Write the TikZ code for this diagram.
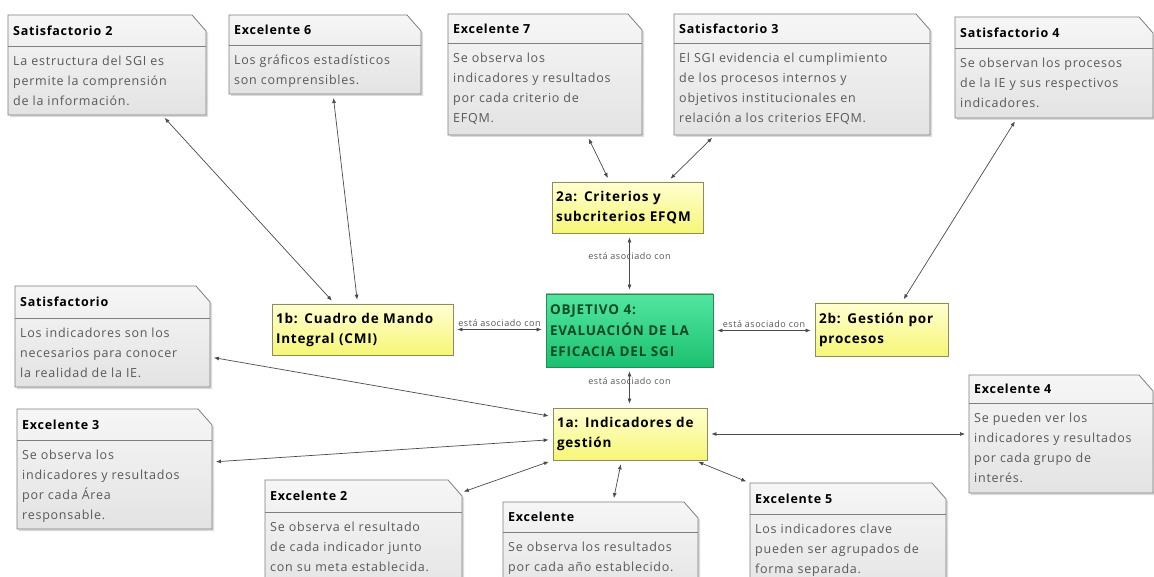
\documentclass[tikz,border=0pt]{standalone}
\usepackage{fontspec}
\setmainfont{Open Sans}[LetterSpace=6]
\usetikzlibrary{arrows.meta,calc}
\definecolor{notetop}{HTML}{F6F6F6}
\definecolor{notebot}{HTML}{E3E3E3}
\definecolor{noteborder}{HTML}{7F7F7F}
\definecolor{bodygray}{HTML}{595959}
\definecolor{ytop}{HTML}{FFFFD2}
\definecolor{ybot}{HTML}{F6F676}
\definecolor{yborder}{HTML}{8C8C64}
\definecolor{gtop}{HTML}{52E6A0}
\definecolor{gbot}{HTML}{1CC070}
\definecolor{gborder}{HTML}{2A8A55}
\definecolor{gtext}{HTML}{0E4A24}
\definecolor{linegray}{HTML}{4A4A4A}
\definecolor{labgray}{HTML}{555555}
\tikzset{
  notetitle/.style={inner sep=0pt,font=\fontsize{12.5}{20}\selectfont\bfseries,text=black},
  notebody/.style={inner sep=0pt,anchor=north west,align=left,font=\fontsize{12.5}{20}\selectfont,text=bodygray},
  ybox/.style={draw=yborder,line width=0.8pt,top color=ytop,bottom color=ybot,align=left,
    inner xsep=4pt,inner ysep=0pt,font=\fontsize{13.5}{20}\selectfont\bfseries,text=black},
  gbox/.style={draw=gborder,line width=0.8pt,top color=gtop,bottom color=gbot,align=left,
    inner xsep=4pt,inner ysep=0pt,font=\fontsize{13.5}{21}\selectfont\bfseries,text=gtext},
  conn/.style={draw=linegray,line width=0.7pt,
    {Latex[length=5pt,width=4pt]}-{Latex[length=5pt,width=4pt]},shorten <=4pt,shorten >=4pt},
  lab/.style={font=\fontsize{9}{10}\selectfont,text=labgray,inner sep=1pt}
}
% #1 name, #2 x1, #3 y1, #4 x2, #5 y2, #6 divider y, #7 title, #8 body
\newcommand\notebox[8]{%
  \node[inner sep=0pt,outer sep=0pt,minimum width={#4pt-#2pt},minimum height={#5pt-#3pt}] (#1) at ({(#2+#4)/2},{(#3+#5)/2}) {};
  \fill[black!14] ([shift={(2pt,-2pt)}]#1.north west) -- ([shift={(-12pt,-2pt)}]#1.north east)
     -- ([shift={(2pt,-18pt)}]#1.north east) -- ([shift={(2pt,-2pt)}]#1.south east)
     -- ([shift={(2pt,-2pt)}]#1.south west) -- cycle;
  \path[draw=noteborder,line width=0.8pt,top color=notetop,bottom color=notebot]
     (#1.north west) -- ([xshift=-14pt]#1.north east) -- ([yshift=-16pt]#1.north east)
     -- (#1.south east) -- (#1.south west) -- cycle;
  \draw[noteborder,line width=0.8pt] (#2,#6) -- (#4,#6);
  \node[notetitle,anchor=west] (#1-t) at ({#2+5},{(#3+#6)/2}) {#7};
  \node[notebody] (#1-b) at ({#2+5},{#6+9.5}) {#8};
}
\begin{document}
\begin{tikzpicture}[x=1pt,y=-1pt]
\useasboundingbox (0,0) rectangle (1154,577);
\clip (0,0) rectangle (1154,577);
\fill[white] (0,0) rectangle (1154,577);

% notes
\notebox{sat2}{8}{15}{206}{115}{46}{Satisfactorio 2}{La estructura del SGI es\\permite la comprensión\\de la información.}
\notebox{exc6}{229}{15}{421}{94}{45}{Excelente 6}{Los gráficos estadísticos\\son comprensibles.}
\notebox{exc7}{448}{14}{642}{135}{43}{Excelente 7}{Se observa los\\indicadores y resultados\\por cada criterio de\\EFQM.}
\notebox{sat3}{674}{14}{930}{135}{43}{Satisfactorio 3}{El SGI evidencia el cumplimiento\\de los procesos internos y\\objetivos institucionales en\\relación a los criterios EFQM.}
\notebox{sat4}{955}{17}{1153}{118}{48}{Satisfactorio 4}{Se observan los procesos\\de la IE y sus respectivos\\indicadores.}
\notebox{sat}{15}{286}{210}{387}{318}{Satisfactorio}{Los indicadores son los\\necesarios para conocer\\la realidad de la IE.}
\notebox{exc3}{17}{409}{212}{529}{440}{Excelente 3}{Se observa los\\indicadores y resultados\\por cada Área\\responsable.}
\notebox{exc4}{969}{375}{1153}{493}{403}{Excelente 4}{Se pueden ver los\\indicadores y resultados\\por cada grupo de\\interés.}
\notebox{exc2}{265}{480}{462}{600}{512}{Excelente 2}{Se observa el resultado\\de cada indicador junto\\con su meta establecida.}
\notebox{exc}{503}{502}{698}{600}{532}{Excelente}{Se observa los resultados\\por cada año establecido.}
\notebox{exc5}{750}{483}{946}{600}{514}{Excelente 5}{Los indicadores clave\\pueden ser agrupados de\\forma separada.}

% main boxes
\node[ybox,minimum width=181pt,minimum height=51pt,text width=173pt] (b1) at (362.5,329.5) {1b: Cuadro de Mando\\Integral (CMI)};
\node[ybox,minimum width=151pt,minimum height=51pt,text width=143pt] (a2) at (627.5,207.5) {2a: Criterios y\\subcriterios EFQM};
\node[ybox,minimum width=133pt,minimum height=53pt,text width=125pt] (b2) at (881.5,329.5) {2b: Gestión por\\procesos};
\node[ybox,minimum width=154pt,minimum height=52pt,text width=146pt] (a1) at (630,434) {1a: Indicadores de\\gestión};
\node[gbox,minimum width=167pt,minimum height=73pt,text width=159pt] (obj) at (629.5,330.5) {OBJETIVO 4:\\EVALUACIÓN DE LA\\EFICACIA DEL SGI};

% connectors
\draw[conn] ([xshift=154pt]sat2.south west) -- ([xshift=63pt]b1.north west);
\draw[conn] ([xshift=104pt]exc6.south west) -- ([xshift=86pt]b1.north west);
\draw[conn] ([xshift=139pt]exc7.south west) -- ([xshift=58pt]a2.north west);
\draw[conn] ([xshift=41pt]sat3.south west) -- ([xshift=116pt]a2.north west);
\draw[conn] ([xshift=62pt]sat4.south west) -- ([xshift=87pt]b2.north west);
\draw[conn] (obj.north |- a2.south) -- node[lab,pos=0.38] {está asociado con} (obj.north);
\draw[conn] (b1.east) -- node[lab,above=2pt] {está asociado con} (b1.east -| obj.west);
\draw[conn] (obj.east) -- node[lab,above=2pt] {está asociado con} (obj.east -| b2.west);
\draw[conn] (obj.south) -- node[lab,pos=0.34] {está asociado con} (obj.south |- a1.north);
\draw[conn] ([yshift=-71pt]sat.north east) -- ([yshift=-9pt]a1.north west);
\draw[conn] ([yshift=-53pt]exc3.north east) -- ([yshift=-32pt]a1.north west);
\draw[conn] (a1.east) -- (a1.east -| exc4.west);
\draw[conn] (a1.south west) -- ([shift={(-2pt,-13pt)}]exc2.north east);
\draw[conn] ([xshift=69pt]a1.south west) -- ([xshift=110pt]exc.north west);
\draw[conn] ([xshift=142pt]a1.south west) -- (exc5.north west);
\end{tikzpicture}
\end{document}
